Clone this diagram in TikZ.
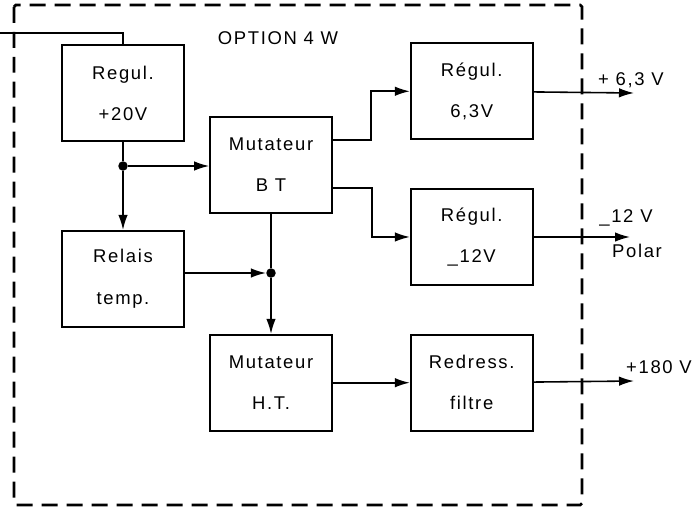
\documentclass[tikz,border=0pt]{standalone}
\usepackage{fontspec}
\setmainfont{Liberation Sans}[LetterSpace=9]
\usetikzlibrary{arrows.meta,positioning}

\begin{document}
\begin{tikzpicture}[x=0.02cm,y=-0.02cm,
  blk/.style={draw,line width=1pt,minimum width=2.44cm,minimum height=1.92cm,
    align=center,inner sep=0pt,font=\fontsize{10.5}{12}\selectfont},
  ar/.style={-{Latex[length=3mm,width=1.9mm]},line width=0.9pt},
  ln/.style={line width=0.9pt},
  lab/.style={font=\fontsize{10.5}{12}\selectfont,inner sep=1pt},
  dot/.style={circle,fill,inner sep=0pt,minimum size=1.9mm}]
\useasboundingbox (0,0) rectangle (694,508);
% frame of the option
\draw[line width=1.6pt,dash pattern=on 0.32cm off 0.18cm,rounded corners=1pt] (14,5) rectangle (582,505);
\node[lab] (opt) at (278,38) {OPTION 4 W};
% blocks
\node[blk] (R20) at (123,93) {Regul.\\[0.4cm]+20V};
\node[blk,below=1.76cm of R20] (Rel) {Relais\\[0.4cm]temp.};
\node[blk] (BT) at (271,165) {Mutateur\\[0.4cm]B T};
\node[blk,below=2.4cm of BT] (HT) {Mutateur\\[0.4cm]H.T.};
\node[blk,right=1.54cm of HT] (Red) {Redress.\\[0.4cm]filtre};
\node[blk,above=0.96cm of Red] (R12) {Régul.\\[0.4cm]\_12V};
\node[blk,above=0.96cm of R12] (R63) {Régul.\\[0.4cm]6,3V};
% junctions and free ends
\node[dot] (j1) at (123,166) {};
\node[dot] (j2) at (271,273) {};
\coordinate (in) at (0,33);
\coordinate (o1) at (634,93);
\coordinate (o2) at (630,237);
\coordinate (o3) at (634,381);
% connections
\draw[ln] (in) -| (R20.north);
\draw[ln] (R20.south) -- (j1);
\draw[ar] (j1) -- (j1 -| BT.west);
\draw[ar] (j1) -- (Rel.north);
\draw[ar] (Rel.east |- j2) -- (j2);
\draw[ln] (BT.south) -- (j2);
\draw[ar] (j2) -- (HT.north);
\draw[ar] (HT) -- (Red);
\draw[ar] ([yshift=0.5cm]BT.east) -- ++(38,0) |- (R63.west);
\draw[ar] ([yshift=-0.46cm]BT.east) -- ++(39,0) |- (R12.west);
% outputs
\draw[ar] (R63) -- (o1);
\draw[ar] (R12) -- (o2);
\draw[ar] (Red) -- (o3);
\node[lab] (l63) at (631,80) {+ 6,3 V};
\node[lab] (l12) at (626,218) {\_12 V};
\node[lab] (pol) at (637,251) {Polar};
\node[lab] (l180) at (659,367) {+180 V};
\end{tikzpicture}
\end{document}
